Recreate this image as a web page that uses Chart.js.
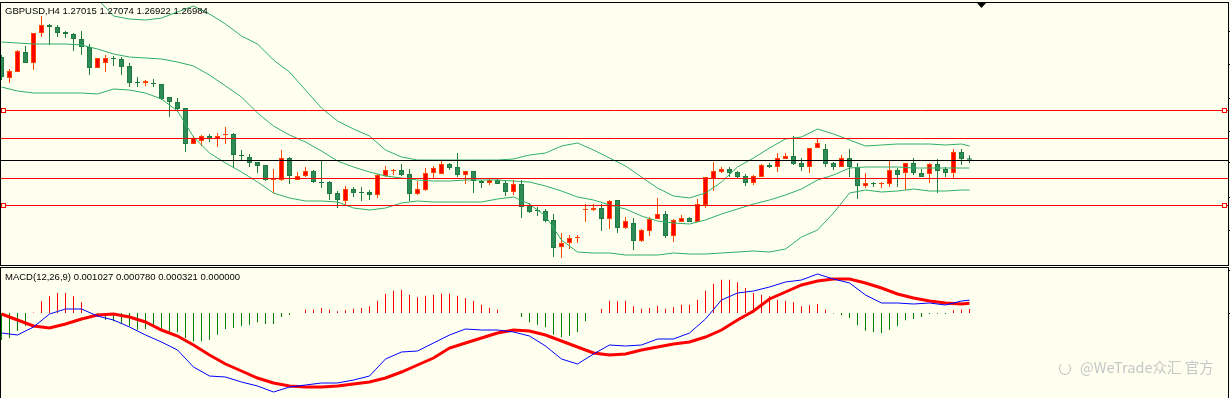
<!DOCTYPE html>
<html>
<head>
<meta charset="utf-8">
<style>
  body { margin: 0; background: #fffff0; width: 1230px; height: 398px; overflow: hidden; position: relative; font-family: "Liberation Sans", Arial, sans-serif; }
  canvas { position: absolute; left: 0; }
  #price { top: 0; }
  #macd { top: 266px; }
  .label { position: absolute; font-size: 9.5px; line-height: 11px; color: #000; white-space: pre; }
  #wm { position: absolute; left: 1080px; top: 358px; font-family: "Noto Sans CJK SC", sans-serif; font-size: 14.5px; line-height: 18px; color: #c6c6c6; white-space: pre; }
  #wmicon { position: absolute; left: 1059px; top: 362px; width: 10px; height: 11px; border: 1.5px solid #bdbdbd; border-radius: 50%; border-top-color: transparent; }
</style>
<script src="https://cdn.jsdelivr.net/npm/chart.js@4.4.0/dist/chart.umd.min.js"></script>
</head>
<body>
<canvas id="price" width="1230" height="266"></canvas>
<canvas id="macd" width="1230" height="132"></canvas>
<div class="label" style="left:5px;top:5px">GBPUSD,H4 1.27015 1.27074 1.26922 1.26984</div>
<div class="label" style="left:5px;top:271px">MACD(12,26,9) 0.001027 0.000780 0.000321 0.000000</div>
<div id="wmicon"></div>
<div id="wm">@WeTrade众汇 官方</div>
<script>
// GBPUSD H4 candles
const opens = [
  1.2904,1.2862,1.2874,1.2914,1.2892,1.2952,1.2968,1.2964,1.2954,1.2950,
  1.2940,1.2924,1.2882,1.2892,1.2902,1.2900,1.2886,1.2854,1.2852,1.2852,
  1.2850,1.2824,1.2814,1.2802,1.2730,1.2736,1.2746,1.2740,1.2748,1.2750,
  1.2708,1.2704,1.2694,1.2688,1.2658,1.2658,1.2702,1.2658,1.2666,1.2676,
  1.2654,1.2654,1.2632,1.2616,1.2640,1.2634,1.2634,1.2628,1.2666,1.2676,
  1.2678,1.2670,1.2630,1.2638,1.2672,1.2670,1.2690,1.2684,1.2668,1.2676,
  1.2656,1.2652,1.2658,1.2652,1.2634,1.2650,1.2606,1.2598,1.2596,1.2578,
  1.2524,1.2532,1.2542,1.2598,1.2598,1.2602,1.2580,1.2618,1.2562,1.2572,
  1.2536,1.2556,1.2580,1.2590,1.2546,1.2574,1.2582,1.2574,1.2608,1.2660,
  1.2674,1.2680,1.2674,1.2666,1.2652,1.2664,1.2688,1.2684,1.2700,1.2706,
  1.2692,1.2684,1.2722,1.2720,1.2692,1.2684,1.2702,1.2684,1.2646,1.2652,
  1.2650,1.2650,1.2678,1.2672,1.2692,1.2672,1.2670,1.2690,1.2680,1.2672,
  1.2714,1.27015
];
const highs = [
  1.2908,1.2880,1.2918,1.2926,1.2952,1.2986,1.2970,1.2968,1.2956,1.2952,
  1.2956,1.2930,1.2902,1.2908,1.2906,1.2904,1.2892,1.2864,1.2858,1.2860,
  1.2850,1.2824,1.2822,1.2802,1.2746,1.2748,1.2750,1.2752,1.2764,1.2752,
  1.2718,1.2710,1.2694,1.2688,1.2680,1.2718,1.2704,1.2674,1.2684,1.2678,
  1.2696,1.2656,1.2636,1.2646,1.2644,1.2644,1.2638,1.2670,1.2686,1.2680,
  1.2690,1.2680,1.2656,1.2682,1.2686,1.2696,1.2692,1.2712,1.2676,1.2676,
  1.2658,1.2660,1.2660,1.2658,1.2658,1.2658,1.2612,1.2604,1.2600,1.2590,
  1.2552,1.2548,1.2548,1.2610,1.2610,1.2610,1.2618,1.2618,1.2584,1.2582,
  1.2560,1.2584,1.2622,1.2596,1.2580,1.2588,1.2584,1.2620,1.2664,1.2694,
  1.2684,1.2684,1.2676,1.2670,1.2668,1.2690,1.2692,1.2712,1.2712,1.2746,
  1.2702,1.2722,1.2740,1.2730,1.2694,1.2708,1.2720,1.2692,1.2672,1.2654,
  1.2654,1.2696,1.2682,1.2692,1.2702,1.2680,1.2692,1.2700,1.2684,1.2720,
  1.2720,1.27074
];
const lows = [
  1.2858,1.2852,1.2874,1.2892,1.2878,1.2944,1.2928,1.2944,1.2942,1.2916,
  1.2908,1.2868,1.2882,1.2874,1.2886,1.2868,1.2844,1.2844,1.2846,1.2844,
  1.2818,1.2784,1.2794,1.2714,1.2730,1.2726,1.2734,1.2724,1.2730,1.2684,
  1.2698,1.2684,1.2672,1.2656,1.2632,1.2656,1.2650,1.2658,1.2664,1.2652,
  1.2642,1.2618,1.2602,1.2608,1.2624,1.2616,1.2618,1.2622,1.2664,1.2668,
  1.2666,1.2616,1.2628,1.2636,1.2662,1.2670,1.2678,1.2664,1.2650,1.2632,
  1.2642,1.2648,1.2650,1.2626,1.2628,1.2582,1.2592,1.2586,1.2574,1.2504,
  1.2502,1.2520,1.2532,1.2574,1.2596,1.2556,1.2560,1.2552,1.2560,1.2518,
  1.2534,1.2546,1.2580,1.2542,1.2534,1.2574,1.2574,1.2574,1.2602,1.2636,
  1.2672,1.2664,1.2662,1.2646,1.2648,1.2664,1.2682,1.2674,1.2700,1.2688,
  1.2676,1.2672,1.2722,1.2684,1.2678,1.2684,1.2664,1.2620,1.2642,1.2644,
  1.2642,1.2644,1.2644,1.2638,1.2668,1.2664,1.2652,1.2632,1.2664,1.2662,
  1.2688,1.26922
];
const closes = [
  1.2864,1.2876,1.2916,1.2892,1.2952,1.2968,1.2964,1.2952,1.2950,1.2940,
  1.2924,1.2882,1.2902,1.2902,1.2900,1.2884,1.2852,1.2852,1.2856,1.2850,
  1.2820,1.2814,1.2800,1.2730,1.2742,1.2746,1.2740,1.2746,1.2750,1.2708,
  1.2706,1.2692,1.2686,1.2658,1.2660,1.2702,1.2666,1.2666,1.2676,1.2654,
  1.2652,1.2630,1.2618,1.2640,1.2632,1.2632,1.2628,1.2668,1.2678,1.2678,
  1.2668,1.2630,1.2640,1.2672,1.2682,1.2690,1.2682,1.2668,1.2676,1.2656,
  1.2652,1.2658,1.2650,1.2634,1.2650,1.2604,1.2594,1.2596,1.2576,1.2522,
  1.2532,1.2542,1.2544,1.2600,1.2602,1.2580,1.2616,1.2562,1.2576,1.2536,
  1.2558,1.2580,1.2590,1.2546,1.2578,1.2582,1.2574,1.2610,1.2664,1.2676,
  1.2680,1.2672,1.2664,1.2652,1.2666,1.2688,1.2684,1.2702,1.2706,1.2690,
  1.2684,1.2722,1.2732,1.2690,1.2684,1.2702,1.2684,1.2646,1.2652,1.2650,
  1.2652,1.2678,1.2668,1.2692,1.2672,1.2664,1.2690,1.2676,1.2672,1.2714,
  1.2700,1.26984
];

// Bollinger bands, sampled every second bar plus the last one
const upperBand = [
  1.3042,1.3054,1.3058,1.3054,1.3046,1.3034,1.3020,1.2986,1.2980,1.2978,
  1.2982,1.2994,1.3006,1.2990,1.2970,1.2946,1.2930,1.2898,1.2874,1.2838,
  1.2802,1.2776,1.2760,1.2746,1.2718,1.2704,1.2698,1.2698,1.2698,1.2698,
  1.2698,1.2698,1.2700,1.2708,1.2712,1.2726,1.2732,1.2718,1.2702,1.2686,
  1.2664,1.2642,1.2626,1.2622,1.2632,1.2654,1.2684,1.2702,1.2722,1.2740,
  1.2744,1.2760,1.2750,1.2738,1.2726,1.2728,1.2730,1.2730,1.2730,1.2728,
  1.2730,1.2726
];
const middleBand = [
  1.2934,1.2932,1.2930,1.2930,1.2930,1.2928,1.2920,1.2910,1.2904,1.2902,
  1.2900,1.2894,1.2886,1.2868,1.2846,1.2824,1.2792,1.2766,1.2748,1.2734,
  1.2716,1.2696,1.2684,1.2674,1.2666,1.2662,1.2658,1.2656,1.2656,1.2658,
  1.2658,1.2658,1.2656,1.2654,1.2646,1.2636,1.2624,1.2618,1.2608,1.2600,
  1.2586,1.2576,1.2572,1.2570,1.2578,1.2590,1.2600,1.2610,1.2618,1.2628,
  1.2640,1.2658,1.2668,1.2682,1.2684,1.2684,1.2684,1.2682,1.2682,1.2682,
  1.2682,1.2682
];
const lowerBand = [
  1.2844,1.2836,1.2832,1.2832,1.2832,1.2832,1.2830,1.2840,1.2838,1.2832,
  1.2820,1.2796,1.2744,1.2712,1.2692,1.2674,1.2654,1.2632,1.2622,1.2616,
  1.2616,1.2614,1.2602,1.2598,1.2602,1.2612,1.2616,1.2614,1.2614,1.2614,
  1.2614,1.2620,1.2624,1.2610,1.2586,1.2538,1.2514,1.2512,1.2512,1.2508,
  1.2508,1.2508,1.2512,1.2510,1.2510,1.2512,1.2514,1.2516,1.2514,1.2520,
  1.2544,1.2558,1.2592,1.2632,1.2638,1.2634,1.2636,1.2640,1.2636,1.2636,
  1.2638,1.2638
];

// horizontal levels (red lines, current price in black)
const levels = [1.2798, 1.2742, 1.26984, 1.2662, 1.2608];
const levelColors = ['#ff0000', '#ff0000', '#000000', '#ff0000', '#ff0000'];
const markedLevels = [1.2798, 1.2608];
const priceTicks = [1.2956, 1.2889, 1.2822, 1.2756, 1.2693, 1.2624, 1.2558];

// MACD(12,26,9): main line and signal sampled like the bands, histogram per bar
const macdMain = [
  -0.00160,-0.00176,-0.00112,-0.00008,0.00032,0.00032,-0.00024,-0.00056,-0.00112,-0.00176,
  -0.00232,-0.00296,-0.00432,-0.00504,-0.00512,-0.00552,-0.00584,-0.00632,-0.00592,-0.00576,
  -0.00560,-0.00560,-0.00536,-0.00504,-0.00368,-0.00312,-0.00304,-0.00240,-0.00176,-0.00128,
  -0.00136,-0.00136,-0.00152,-0.00184,-0.00264,-0.00368,-0.00408,-0.00328,-0.00256,-0.00264,
  -0.00256,-0.00208,-0.00208,-0.00160,-0.00048,0.00104,0.00160,0.00176,0.00208,0.00248,
  0.00264,0.00312,0.00272,0.00240,0.00144,0.00080,0.00080,0.00072,0.00080,0.00064,
  0.00096,0.001027
];
const macdSignal = [
  -0.00008,-0.00056,-0.00104,-0.00120,-0.00088,-0.00048,-0.00016,-0.00008,-0.00032,-0.00072,
  -0.00136,-0.00184,-0.00256,-0.00336,-0.00408,-0.00464,-0.00520,-0.00560,-0.00584,-0.00592,
  -0.00592,-0.00584,-0.00568,-0.00552,-0.00520,-0.00472,-0.00416,-0.00360,-0.00280,-0.00240,
  -0.00200,-0.00160,-0.00136,-0.00144,-0.00176,-0.00224,-0.00272,-0.00320,-0.00336,-0.00328,
  -0.00296,-0.00272,-0.00248,-0.00232,-0.00192,-0.00136,-0.00056,0.00016,0.00112,0.00168,
  0.00224,0.00256,0.00272,0.00272,0.00240,0.00200,0.00152,0.00120,0.00096,0.00080,
  0.00072,0.00078
];
const macdHist = [
  -0.00216,-0.00200,-0.00144,-0.00104,0.00004,0.00094,0.00134,0.00160,0.00160,0.00134,
  0.00086,0,-0.00026,-0.00054,-0.00066,-0.00080,-0.00106,-0.00134,-0.00128,-0.00106,
  -0.00146,-0.00154,-0.00154,-0.00200,-0.00226,-0.00226,-0.00214,-0.00174,-0.00128,-0.00120,
  -0.00106,-0.00094,-0.00074,-0.00088,-0.00088,-0.00032,-0.00014,0,0.00026,0.00026,
  0.00040,0.00026,0.00014,0.00022,0.00034,0.00040,0.00054,0.00098,0.00152,0.00178,
  0.00186,0.00146,0.00126,0.00138,0.00146,0.00154,0.00154,0.00138,0.00120,0.00096,
  0.00066,0.00042,0.00026,0,0,-0.00032,-0.00074,-0.00094,-0.00114,-0.00174,
  -0.00194,-0.00182,-0.00154,-0.00066,0,0.00032,0.00098,0.00094,0.00098,0.00054,
  0.00034,0.00040,0.00058,0.00034,0.00046,0.00066,0.00066,0.00106,0.00178,0.00234,
  0.00266,0.00266,0.00246,0.00200,0.00160,0.00146,0.00134,0.00106,0.00098,0.00086,
  0.00054,0.00062,0.00072,0.00026,-0.00004,-0.00018,-0.00040,-0.00098,-0.00142,-0.00154,
  -0.00160,-0.00134,-0.00106,-0.00058,-0.00048,-0.00032,-0.00008,-0.00006,-0.00008,0.00022,
  0.00026,0.000321
];
const macdTicks = [0.00344, 0];

const UP = '#ff0000', UP_EDGE = '#ff4500';
const DOWN = '#2e8b57', DOWN_EDGE = '#1f7a3f';
const BAND = '#2fae66';
const BG = '#fffff0';

const isUp = (i) => closes[i] >= opens[i];
const sampleIdx = upperBand.map((_, k) => (k < 61 ? 2 * k : 121));
const asLine = (arr) => sampleIdx.map((x, k) => ({ x: x, y: arr[k] }));

function baseOptions(yMin, yMax, pad) {
  return {
    responsive: false,
    animation: false,
    devicePixelRatio: 1,
    events: [],
    layout: { padding: pad },
    plugins: { legend: { display: false }, tooltip: { enabled: false } },
    scales: {
      x: { type: 'linear', min: -0.0625, max: 153.3125, display: false, offset: false },
      y: { type: 'linear', min: yMin, max: yMax, display: false }
    }
  };
}

const pricePanel = {
  id: 'pricePanel',
  afterDatasetsDraw(chart) {
    const { ctx, chartArea: a, scales: { y } } = chart;
    ctx.save();
    ctx.lineWidth = 1;
    levels.forEach((v, k) => {
      const py = Math.round(y.getPixelForValue(v)) + 0.5;
      ctx.strokeStyle = levelColors[k];
      ctx.beginPath();
      ctx.moveTo(a.left, py);
      ctx.lineTo(a.right, py);
      ctx.stroke();
    });
    markedLevels.forEach((v) => {
      const py = Math.round(y.getPixelForValue(v)) + 0.5;
      [a.left + 0.5, a.right - 5.5].forEach((px) => {
        ctx.fillStyle = BG;
        ctx.fillRect(px, py - 2, 4, 4);
        ctx.strokeStyle = '#ff0000';
        ctx.strokeRect(px, py - 2, 4, 4);
      });
    });
    ctx.restore();
  },
  afterDraw(chart) {
    const { ctx, scales: { x, y } } = chart;
    ctx.save();
    ctx.strokeStyle = '#000';
    ctx.lineWidth = 1;
    ctx.strokeRect(0.5, 2.5, 1228, 263);
    ctx.fillStyle = '#000';
    priceTicks.forEach((v) => ctx.fillRect(1229, Math.round(y.getPixelForValue(v)), 2, 1));
    const tx = x.getPixelForValue(122.5);
    ctx.beginPath();
    ctx.moveTo(tx - 4.5, 3);
    ctx.lineTo(tx + 4.5, 3);
    ctx.lineTo(tx, 8);
    ctx.closePath();
    ctx.fill();
    ctx.restore();
  }
};

const macdPanel = {
  id: 'macdPanel',
  afterDraw(chart) {
    const { ctx, scales: { y } } = chart;
    ctx.save();
    ctx.strokeStyle = '#000';
    ctx.lineWidth = 1;
    ctx.strokeRect(0.5, 1.5, 1228, 200);
    ctx.fillStyle = '#000';
    macdTicks.forEach((v) => ctx.fillRect(1229, Math.round(y.getPixelForValue(v)), 2, 1));
    ctx.restore();
  }
};

new Chart(document.getElementById('price'), {
  type: 'bar',
  data: {
    datasets: [
      {
        type: 'line', data: asLine(upperBand), borderColor: BAND, borderWidth: 1,
        pointRadius: 0, tension: 0, fill: false, order: 1
      },
      {
        type: 'line', data: asLine(middleBand), borderColor: BAND, borderWidth: 1,
        pointRadius: 0, tension: 0, fill: false, order: 1
      },
      {
        type: 'line', data: asLine(lowerBand), borderColor: BAND, borderWidth: 1,
        pointRadius: 0, tension: 0, fill: false, order: 1
      },
      {
        // candle bodies
        data: opens.map((o, i) => ({ x: i, y: [o, closes[i]] })),
        barThickness: 5, grouped: false, borderSkipped: false, borderWidth: 1, inflateAmount: 0,
        backgroundColor: (c) => (isUp(c.dataIndex) ? UP : DOWN),
        borderColor: (c) => (isUp(c.dataIndex) ? UP_EDGE : DOWN_EDGE),
        order: 2
      },
      {
        // wicks
        data: lows.map((l, i) => ({ x: i, y: [l, highs[i]] })),
        barThickness: 1, grouped: false, borderWidth: 0, inflateAmount: 0,
        backgroundColor: (c) => (isUp(c.dataIndex) ? UP_EDGE : DOWN_EDGE),
        order: 3
      }
    ]
  },
  options: baseOptions(1.2488, 1.3012, { left: 1, right: 2, top: 3, bottom: 1 }),
  plugins: [pricePanel]
});

new Chart(document.getElementById('macd'), {
  type: 'bar',
  data: {
    datasets: [
      {
        type: 'line', data: asLine(macdMain), borderColor: '#0000ff', borderWidth: 1,
        pointRadius: 0, tension: 0, fill: false, order: 1
      },
      {
        type: 'line', data: asLine(macdSignal), borderColor: '#ff0000', borderWidth: 3,
        pointRadius: 0, tension: 0, fill: false, order: 2
      },
      {
        data: macdHist.map((v, i) => ({ x: i, y: v })),
        barThickness: 1, grouped: false, borderWidth: 0, inflateAmount: 0,
        backgroundColor: (c) => (macdHist[c.dataIndex] >= 0 ? '#ff0000' : '#008000'),
        order: 3
      }
    ]
  },
  options: baseOptions(-0.0068, 0.00368, { left: 1, right: 2, top: 1, bottom: 0 }),
  plugins: [macdPanel]
});
</script>
</body>
</html>
